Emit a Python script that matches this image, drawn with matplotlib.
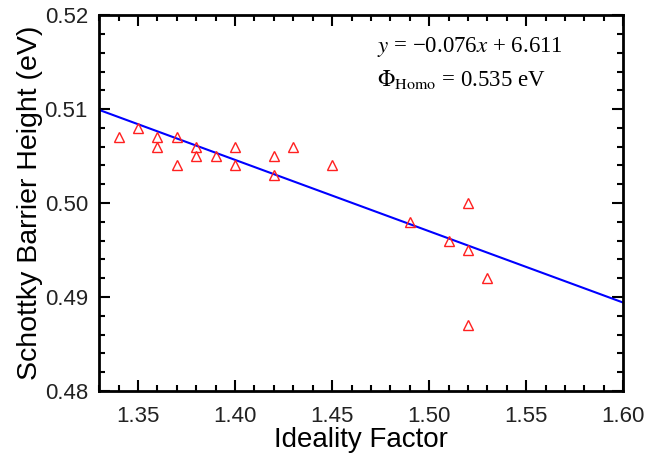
import matplotlib
matplotlib.use("Agg")
import matplotlib.pyplot as plt
import numpy as np
from matplotlib.ticker import MultipleLocator, FormatStrFormatter

# ideality factor vs. barrier height
ideality = [1.34, 1.35, 1.36, 1.36, 1.37, 1.37, 1.38, 1.38, 1.39, 1.40, 1.40,
            1.42, 1.42, 1.43, 1.45, 1.49, 1.51, 1.52, 1.52, 1.53, 1.52]
barrier = [0.507, 0.508, 0.507, 0.506, 0.507, 0.504, 0.506, 0.505, 0.505, 0.506, 0.504,
           0.505, 0.503, 0.506, 0.504, 0.498, 0.496, 0.500, 0.495, 0.492, 0.487]

# linear fit drawn across the axis
fit_slope = -0.076
fit_intercept = 0.611
fit_x = [1.33, 1.60]

plt.rcParams["font.family"] = ["Liberation Sans", "DejaVu Sans"]
plt.rcParams["mathtext.fontset"] = "stix"

fig = plt.figure(figsize=(6.52, 4.61), dpi=100)
ax = fig.add_axes([0.152, 0.152, 0.804, 0.815])

xs = np.array(fit_x)
ax.plot(xs, fit_slope * xs + fit_intercept, color="#0000ff", lw=1.5, zorder=2)
ax.plot(ideality, barrier, linestyle="none", marker="^", markersize=7.5,
        markerfacecolor="none", markeredgecolor="#ff2020", markeredgewidth=1.0, zorder=3)

ax.set_xlim(1.33, 1.60)
ax.set_ylim(0.48, 0.52)
ax.xaxis.set_major_locator(MultipleLocator(0.05))
ax.xaxis.set_minor_locator(MultipleLocator(0.01))
ax.yaxis.set_major_locator(MultipleLocator(0.01))
ax.yaxis.set_minor_locator(MultipleLocator(0.002))
ax.xaxis.set_major_formatter(FormatStrFormatter("%.2f"))
ax.yaxis.set_major_formatter(FormatStrFormatter("%.2f"))

for s in ax.spines.values():
    s.set_linewidth(2)
ax.tick_params(which="both", direction="in", top=True, right=True, width=1.5,
               labelsize=16, labelcolor="#222222")
ax.tick_params(which="major", length=8, pad=8)
ax.tick_params(axis="x", which="major", pad=11)
ax.tick_params(which="minor", length=4.5)

ax.set_xlabel("Ideality Factor", fontsize=20, labelpad=0)
ax.set_ylabel("Schottky Barrier Height (eV)", fontsize=20.5, labelpad=1)

ax.text(0.53, 0.915, r"$y$ = −0.076$x$ + 6.611", transform=ax.transAxes,
        fontsize=16.5, family="Liberation Serif", va="center", ha="left")
ax.text(0.53, 0.828, r"$\Phi_{\mathrm{Homo}}$ = 0.535 eV", transform=ax.transAxes,
        fontsize=16.5, family="Liberation Serif", va="center", ha="left")

fig.savefig("out.png", dpi=100)
plt.close(fig)
